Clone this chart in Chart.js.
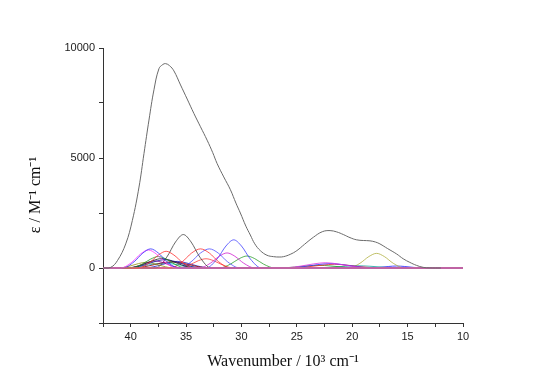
<!DOCTYPE html>
<html>
<head>
<meta charset="utf-8">
<script src="https://cdn.jsdelivr.net/npm/chart.js@4.4.0/dist/chart.umd.min.js"></script>
<style>
  html, body { margin: 0; padding: 0; background: #fff; }
  #wrap { width: 533px; height: 378px; }
</style>
</head>
<body>
<div id="wrap"><canvas id="spectrum" width="533" height="378"></canvas></div>
<script>
// envelope (total absorption), x in 10^3 cm-1, y in M-1 cm-1
const envX = [42.5, 41.8, 41.2, 40.45, 39.85, 39.25, 38.8, 38.35, 37.9, 37.45, 37.1, 36.85, 36.5, 36.1, 35.5, 34.9, 34.3, 33.7, 33.1, 32.6, 32.2, 31.6, 31.0, 30.5, 30.1, 29.6, 29.2, 28.8, 28.3, 27.7, 27.1, 26.6, 26.2, 25.6, 25.0, 24.3, 23.5, 22.7, 22.0, 21.4, 20.8, 20.2, 19.6, 19.0, 18.4, 17.9, 17.5, 16.8, 16.0, 15.4, 14.8, 14.2, 13.6, 13.0, 12.0];
const envY = [0, 30, 333, 1095, 2160, 3680, 5205, 6725, 8100, 9060, 9250, 9290, 9200, 8960, 8320, 7680, 7030, 6420, 5810, 5250, 4750, 4140, 3560, 2950, 2500, 1900, 1500, 1100, 790, 580, 515, 500, 515, 620, 790, 1080, 1400, 1650, 1700, 1640, 1520, 1380, 1280, 1250, 1235, 1180, 1095, 880, 640, 420, 255, 120, 30, 5, 0];

// fitted component bands, each a list of [x, y]
const bands = [
  [[40.7,0],[39.7,280],[38.9,680],[38.2,870],[37.5,680],[36.7,280],[35.7,0]],
  [[40.9,0],[39.9,260],[39.1,640],[38.4,820],[37.7,640],[36.9,260],[35.9,0]],
  [[39.3,0],[38.3,245],[37.5,590],[36.8,760],[36.1,590],[35.3,245],[34.3,0]],
  [[40.0,0],[39.0,165],[38.2,405],[37.5,520],[36.8,405],[36.0,165],[35.0,0]],
  [[40.2,0],[39.0,140],[38.0,335],[37.2,430],[36.4,335],[35.4,140],[34.2,0]],
  [[40.2,0],[38.9,120],[37.8,295],[36.9,380],[36.0,295],[34.9,120],[33.6,0]],
  [[40.3,0],[39.3,100],[38.5,250],[37.8,320],[37.1,250],[36.3,100],[35.3,0]],
  [[41.1,0],[40.1,85],[39.3,200],[38.6,260],[37.9,200],[37.1,85],[36.1,0]],
  [[39.8,0],[38.4,90],[37.3,220],[36.3,280],[35.3,220],[34.2,90],[32.8,0]],
  [[40.7,0],[39.2,70],[38.0,170],[37.0,220],[36.0,170],[34.8,70],[33.3,0]],
  [[37.75,0],[36.75,490],[35.95,1185],[35.25,1520],[34.55,1185],[33.75,490],[32.75,0]],
  [[36.45,0],[35.35,280],[34.5,680],[33.7,870],[32.9,680],[32.05,280],[30.95,0]],
  [[35.65,0],[34.55,280],[33.7,680],[32.9,870],[32.1,680],[31.25,280],[30.15,0]],
  [[33.8,0],[32.8,220],[32.0,535],[31.3,685],[30.6,535],[29.8,220],[28.8,0]],
  [[33.2,0],[32.2,410],[31.4,1000],[30.7,1280],[30.0,1000],[29.2,410],[28.2,0]],
  [[32.0,0],[31.0,175],[30.2,425],[29.5,545],[28.8,425],[28.0,175],[27.0,0]],
  [[35.7,0],[34.7,135],[33.9,330],[33.2,420],[32.5,330],[31.7,135],[30.7,0]],
  [[38.8,0],[37.6,95],[36.6,235],[35.8,300],[35.0,235],[34.0,95],[32.8,0]],
  [[26.4,0],[24.8,75],[23.5,185],[22.4,240],[21.3,185],[20.0,75],[18.4,0]],
  [[26.0,0],[24.4,65],[23.1,155],[22.0,200],[20.9,155],[19.6,65],[18.0,0]],
  [[25.6,0],[24.0,55],[22.7,130],[21.6,170],[20.5,130],[19.2,55],[17.6,0]],
  [[26.8,0],[25.2,40],[24.0,95],[23.0,120],[22.0,95],[20.8,40],[19.3,0]],
  [[23.3,0],[22.0,30],[20.6,80],[19.5,100],[18.4,80],[17.0,30],[15.8,0]],
  [[20.3,0],[19.3,215],[18.5,520],[17.8,665],[17.1,520],[16.3,215],[15.3,0]],
  [[18.5,0],[17.5,30],[16.7,70],[16.0,90],[15.3,70],[14.5,30],[13.5,0]]
];
const bandColors = ['#3030ff', '#ff30ff', '#ff3030', '#20a020', '#202020', '#1010a0', '#900090', '#909010', '#900000', '#10c0c0',
  '#404040', '#ff3030', '#5050ff', '#d020d0', '#4040ff', '#30a030', '#ff4040', '#2020c0',
  '#e030e0', '#3030ff', '#ff2020', '#20a020', '#10a0a0', '#b0b040', '#2020ff'];

const xMin = 10, xMax = 42.5;
const yMin = -2500, yMax = 10000;
const xLabels = [40, 35, 30, 25, 20, 15, 10];
const yLabels = [0, 5000, 10000];

const datasets = [];
datasets.push({
  data: envX.map((x, i) => ({ x: x, y: envY[i] })),
  borderColor: '#6a6a6a', borderWidth: 1, tension: 0.4
});
datasets.push({
  data: [{ x: xMax, y: 0 }, { x: xMin, y: 0 }],
  borderColor: '#ff9090', borderWidth: 1
});
bands.forEach((b, k) => {
  const pts = [{ x: xMax, y: 0 }].concat(b.map(p => ({ x: p[0], y: p[1] })), [{ x: xMin, y: 0 }]);
  datasets.push({ data: pts, borderColor: bandColors[k], borderWidth: 0.8, cubicInterpolationMode: 'monotone' });
});
datasets.forEach(d => {
  d.showLine = true; d.pointRadius = 0;
});

const titles = {
  id: 'titles',
  afterDraw(chart) {
    const c = chart.ctx;
    c.save();
    c.fillStyle = '#111';
    c.font = '16px "Liberation Serif"';
    c.textAlign = 'center';
    c.textBaseline = 'alphabetic';
    c.fillText('Wavenumber / 10\u00b3 cm\u207b\u00b9', 283, 366);
    c.translate(40, 195);
    c.rotate(-Math.PI / 2);
    c.fillText('\u03b5 / M\u207b\u00b9 cm\u207b\u00b9', 0, 0);
    c.restore();
  }
};

const axisFont = { family: '"Liberation Sans", Arial, sans-serif', size: 11 };

new Chart(document.getElementById('spectrum'), {
  type: 'scatter',
  data: { datasets: datasets },
  options: {
    responsive: false,
    animation: false,
    layout: { padding: { left: 0, top: 48, right: 70, bottom: 0 } },
    plugins: { legend: { display: false }, tooltip: { enabled: false } },
    scales: {
      x: {
        type: 'linear', reverse: true, min: xMin, max: xMax,
        afterFit: s => { s.height = 55; },
        ticks: {
          stepSize: 2.5, autoSkip: false, maxRotation: 0, color: '#222', font: axisFont, padding: 3,
          callback: v => xLabels.includes(v) ? String(v) : ''
        },
        grid: { drawOnChartArea: false, tickLength: 4, color: '#333' },
        border: { color: '#333', width: 1 }
      },
      y: {
        min: yMin, max: yMax,
        afterFit: s => { s.width = 103; },
        ticks: {
          stepSize: 2500, color: '#222', font: axisFont, padding: 4,
          callback: v => yLabels.includes(v) ? String(v) : ''
        },
        grid: { drawOnChartArea: false, tickLength: 4, color: '#333' },
        border: { color: '#333', width: 1 }
      }
    }
  },
  plugins: [titles]
});
</script>
</body>
</html>
